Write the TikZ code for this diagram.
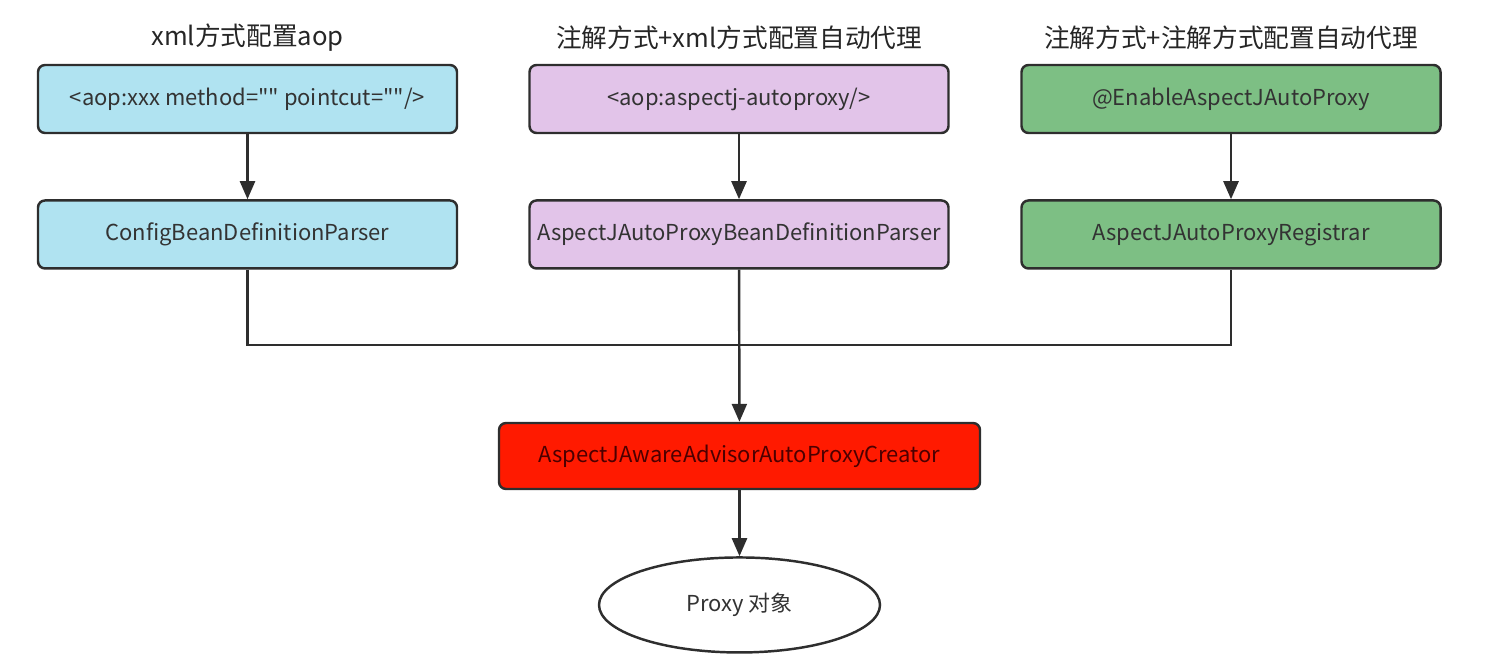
\documentclass[tikz,border=0pt]{standalone}
\usepackage{fontspec}
\setmainfont{Noto Sans CJK SC}[Ligatures=TeXOff]
\usepackage{xcolor}
\usepackage{tikz}
\usetikzlibrary{arrows.meta,positioning,shapes.geometric}
\definecolor{xmlblue}{HTML}{B0E3F1}
\definecolor{annopurple}{HTML}{E2C4E9}
\definecolor{annogreen}{HTML}{7DBF84}
\definecolor{creatorred}{HTML}{FF1A00}
\definecolor{edgegray}{HTML}{2E2E2E}
\definecolor{txtgray}{HTML}{333333}

\begin{document}
\begin{tikzpicture}[font=\fontsize{12.5}{14}\selectfont, text=txtgray,
  box/.style={draw=edgegray, line width=1.4pt, rounded corners=4pt,
              minimum width=8.38cm, minimum height=1.36cm, align=center},
  title/.style={font=\fontsize{14.6}{17}\selectfont, text=black!85},
  arr/.style={-{Triangle[length=3.6mm, width=3mm]}, line width=1.4pt, draw=edgegray},
  lnk/.style={line width=1.4pt, draw=edgegray}]
\useasboundingbox (0,0) rectangle (30,-13.14);
% --- column 1: xml aop config ---
\node[title] (t1) at (4.95,-0.76) {xml方式配置aop};
\node[box, fill=xmlblue] (aopxml) at (4.95,-1.98)
  {<aop:xxx method="{}" pointcut="{}"/>};
\node[box, fill=xmlblue, below=1.3cm of aopxml] (cfgparser)
  {ConfigBeanDefinitionParser};
% --- column 2: annotation + xml auto proxy ---
\node[title] (t2) at (14.78,-0.76) {注解方式+xml方式配置自动代理};
\node[box, fill=annopurple] (autoxml) at (14.78,-1.98)
  {<aop:aspectj-autoproxy/>};
\node[box, fill=annopurple, below=1.3cm of autoxml] (autoparser)
  {AspectJAutoProxyBeanDefinitionParser};
% --- column 3: annotation + annotation auto proxy ---
\node[title] (t3) at (24.62,-0.76) {注解方式+注解方式配置自动代理};
\node[box, fill=annogreen] (enable) at (24.62,-1.98)
  {@EnableAspectJAutoProxy};
\node[box, fill=annogreen, below=1.3cm of enable] (registrar)
  {AspectJAutoProxyRegistrar};
% --- creator and result ---
\node[box, fill=creatorred, text=black!70!red, minimum width=9.62cm,
      minimum height=1.32cm] (creator) at (14.79,-9.12)
  {AspectJAwareAdvisorAutoProxyCreator};
\node[ellipse, draw=edgegray, line width=1.4pt, fill=white,
      minimum width=5.62cm, minimum height=1.9cm, below=1.32cm of creator] (proxy)
  {Proxy 对象};
\coordinate (join) at (autoparser.south |- 0,-6.9);
% --- connectors ---
\draw[arr] (aopxml) -- (cfgparser);
\draw[arr] (autoxml) -- (autoparser);
\draw[arr] (enable) -- (registrar);
\draw[lnk] (cfgparser.south) |- (join) -| (registrar.south);
\draw[arr] (autoparser) -- (creator);
\draw[arr] (creator) -- (proxy);
\end{tikzpicture}
\end{document}
